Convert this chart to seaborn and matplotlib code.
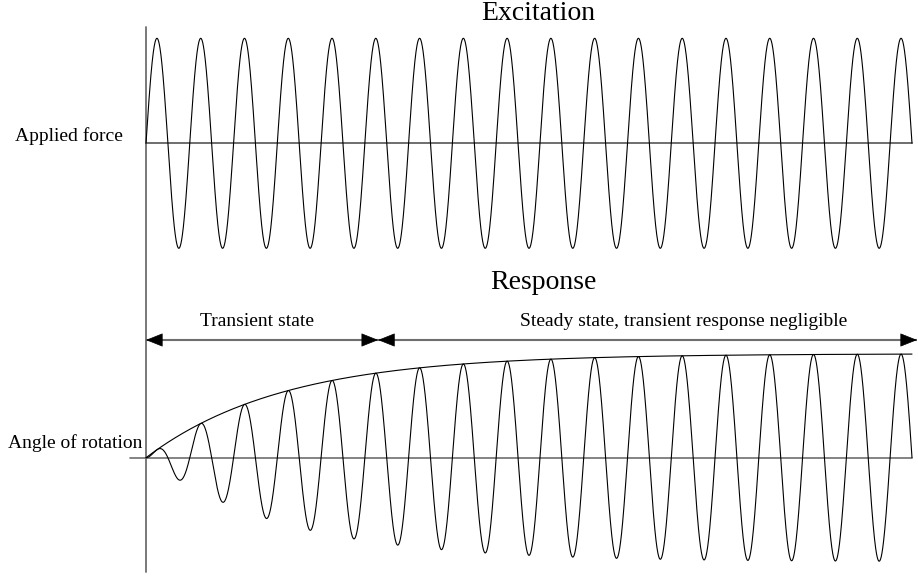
import numpy as np
import pandas as pd
import matplotlib
matplotlib.use("Agg")
import matplotlib.pyplot as plt
import seaborn as sns

# Forced vibration: sinusoidal excitation and the build-up of the response
n_cycles = 17.5            # cycles of the driving force over the record
force_amplitude = 1.0      # excitation amplitude (normalised)
response_amplitude = 1.0   # steady-state response amplitude (normalised)
time_constant = 0.179      # envelope time constant, fraction of the record
transient_end = 0.303      # end of the transient interval, fraction of the record

panel_titles = ["Excitation", "Response"]
signal_labels = ["Applied force", "Angle of rotation"]
interval_labels = ["Transient state", "Steady state, transient response negligible"]

sns.set_theme(style="white")
plt.rcParams["font.family"] = ["Liberation Serif", "DejaVu Serif"]

t = np.linspace(0.0, 1.0, 4001)
force = force_amplitude * np.sin(2 * np.pi * n_cycles * t)
envelope = response_amplitude * (1.0 - np.exp(-t / time_constant))
response = envelope * np.sin(2 * np.pi * n_cycles * t)

df_force = pd.DataFrame({"t": t, "value": force})
df_resp = pd.DataFrame({"t": t, "value": response, "envelope": envelope})

W, H = 918, 577
fig = plt.figure(figsize=(W / 100, H / 100), dpi=100)
fig.patch.set_facecolor("white")

# shared horizontal scale: time 0..1 spans the plotting width
x0_px, x1_px = 146, 912
px_per_t = x1_px - x0_px
xlim = (-x0_px / px_per_t, (W - x0_px) / px_per_t)

# upper panel (excitation)
top_base_px, top_scale = 143.3, 105.0
ax_top = fig.add_axes([0, 0, 1, 1])
ax_top.set_xlim(*xlim)
ax_top.set_ylim((top_base_px - H) / top_scale, top_base_px / top_scale)

# lower panel (response)
bot_base_px, bot_scale = 457.7, 104.0
ax_bot = fig.add_axes([0, 0, 1, 1])
ax_bot.set_xlim(*xlim)
ax_bot.set_ylim((bot_base_px - H) / bot_scale, bot_base_px / bot_scale)

for ax in (ax_top, ax_bot):
    ax.set_axis_off()
    ax.patch.set_alpha(0)

axis_col = "#6e6e6e"
curve_lw = 0.8

# time axis common to both panels
ax_top.axvline(0, ymin=(H - 572) / H, ymax=(H - 27) / H, color=axis_col, lw=1.3)

# baselines
ax_top.plot([0, 1], [0, 0], color="#555555", lw=1.2)
ax_bot.plot([-16 / px_per_t, 1], [0, 0], color=axis_col, lw=1.2)

# curves
sns.lineplot(data=df_force, x="t", y="value", ax=ax_top, color="black",
             lw=curve_lw, sort=False, estimator=None, legend=False)
sns.lineplot(data=df_resp, x="t", y="value", ax=ax_bot, color="black",
             lw=curve_lw, sort=False, estimator=None, legend=False)
sns.lineplot(data=df_resp, x="t", y="envelope", ax=ax_bot, color="black",
             lw=curve_lw, sort=False, estimator=None, legend=False)
for ax in (ax_top, ax_bot):
    ax.set_axis_off()

# interval arrows: grey shafts, black heads
arrow_y = (bot_base_px - 340) / bot_scale
arrow_end = (917 - x0_px) / px_per_t
ax_bot.plot([0, arrow_end], [arrow_y, arrow_y], color=axis_col, lw=1.5,
            solid_capstyle="butt")
head_len = 11 / px_per_t
head_style = dict(arrowstyle="-|>,head_length=0.55,head_width=0.22",
                  color="black", lw=0.5, shrinkA=0, shrinkB=0, mutation_scale=20)
for tip, direction in [(0.0, -1), (transient_end, 1), (transient_end, -1), (arrow_end, 1)]:
    ax_bot.annotate("", xy=(tip, arrow_y),
                    xytext=(tip - direction * head_len, arrow_y),
                    arrowprops=head_style)

# text
def ftext(x_px, y_px, s, size, ha):
    fig.text(x_px / W, 1 - y_px / H, s, fontsize=size, ha=ha, va="baseline",
             color="black")

ftext(538, 20, panel_titles[0], 20, "center")
ftext(543, 289, panel_titles[1], 20, "center")
ftext(123, 141, signal_labels[0], 14, "right")
ftext(142, 448, signal_labels[1], 14, "right")
ftext(256.5, 326, interval_labels[0], 14, "center")
ftext(683.5, 326, interval_labels[1], 14, "center")

fig.savefig("out.png", dpi=100, facecolor="white")
